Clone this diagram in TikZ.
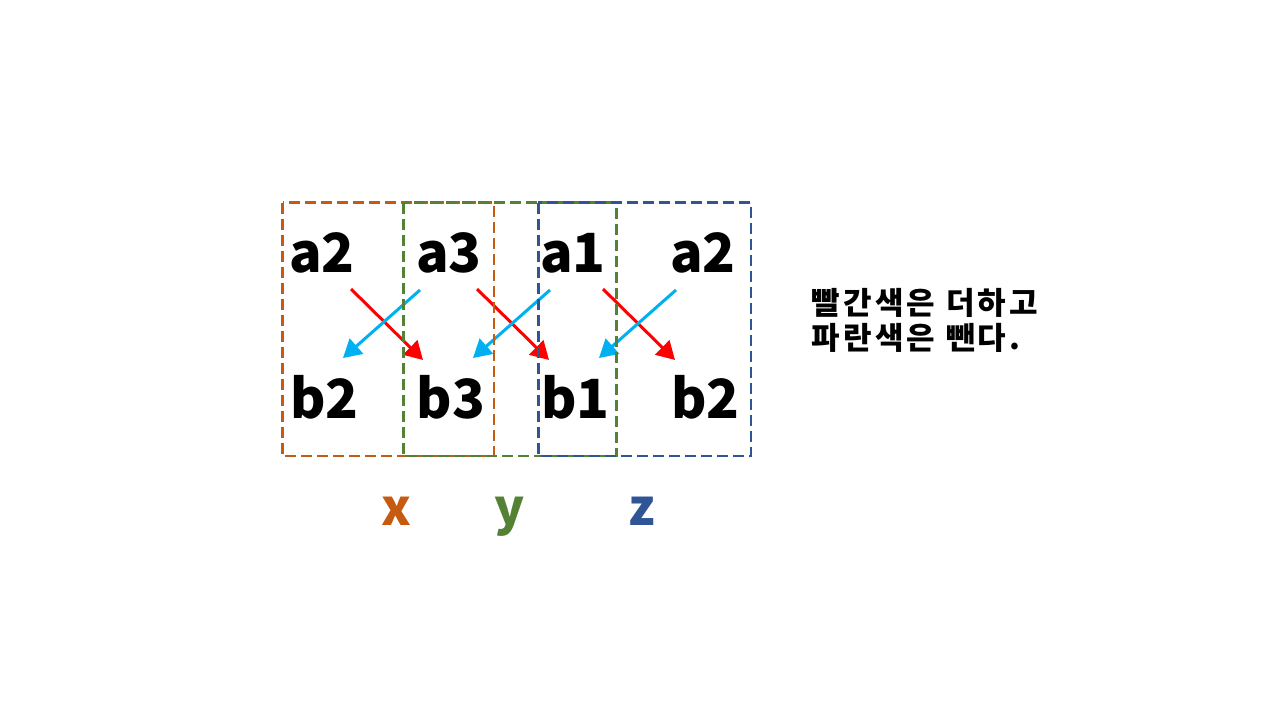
\documentclass[tikz,border=0pt]{standalone}
\usepackage{fontspec}
\setmainfont{Noto Sans CJK KR}
\newfontfamily\notefont{Noto Sans CJK KR}[LetterSpace=11]
\usetikzlibrary{arrows.meta}
\definecolor{xcol}{HTML}{C55A11}
\definecolor{ycol}{HTML}{548235}
\definecolor{zcol}{HTML}{2F5597}
\definecolor{addcol}{HTML}{FF0000}
\definecolor{subcol}{HTML}{00B0F0}

\begin{document}
\begin{tikzpicture}[x=1pt,y=-1pt]
\useasboundingbox (0,0) rectangle (1280,720);
\tikzstyle{term}=[font=\fontsize{54}{60}\selectfont\bfseries,inner sep=0pt,anchor=base]
\tikzstyle{var}=[font=\fontsize{50}{56}\selectfont\bfseries,inner sep=0pt,anchor=base]
\tikzstyle{note}=[font=\notefont\fontsize{31}{36}\selectfont\bfseries,inner sep=0pt,anchor=base west]
\tikzstyle{add}=[line width=3pt,color=addcol,-{Triangle[length=18pt,width=20pt]}]
\tikzstyle{sub}=[line width=3pt,color=subcol,-{Triangle[length=18pt,width=20pt]}]
\tikzstyle{frame}=[line width=2.8pt,dash pattern=on 11pt off 5pt]
% top row
\node[term] (a2) at (322,272) {a2};
\node[term] (a3) at (449,272) {a3};
\node[term] (a1) at (573,272) {a1};
\node[term] (a2r) at (703,272) {a2};
% bottom row
\node[term] (b2) at (324.5,418) {b2};
\node[term] (b3) at (451,418) {b3};
\node[term] (b1) at (575.5,418) {b1};
\node[term] (b2r) at (705.5,418) {b2};
% red: add, blue: subtract
\foreach \n/\x in {1/351,2/477,3/603}{
  \coordinate (addS\n) at (\x,289);
  \coordinate (addE\n) at (\x+72,360);
  \draw[add] (addS\n) -- (addE\n);
}
\foreach \n/\x in {1/420,2/550,3/676}{
  \coordinate (subS\n) at (\x,290);
  \coordinate (subE\n) at (\x-77,358);
  \draw[sub] (subS\n) -- (subE\n);
}
\draw[frame,xcol] (282.7,202.7) rectangle (494,456);
\draw[frame,ycol] (403.3,202.7) rectangle (616.7,456);
\draw[frame,zcol] (538.3,202.7) rectangle (751,456);
\node[var,xcol] (x) at (396,525) {x};
\node[var,ycol] (y) at (510,525) {y};
\node[var,zcol] (z) at (641.5,525) {z};
\node[note] (rule1) at (811,314) {빨간색은 더하고};
\node[note] (rule2) at (811,349) {파란색은 뺀다.};
\end{tikzpicture}
\end{document}
